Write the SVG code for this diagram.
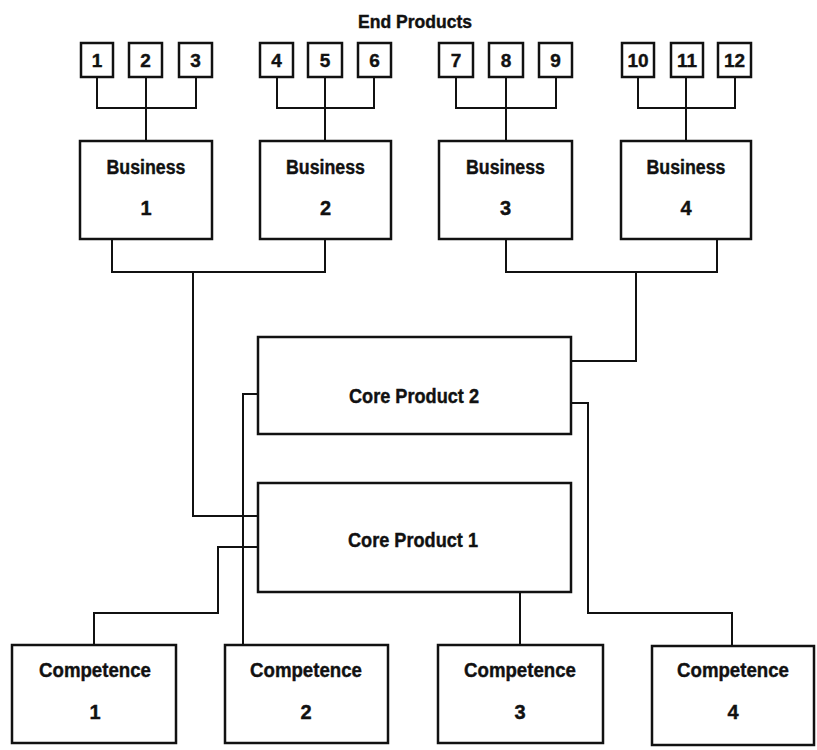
<svg xmlns="http://www.w3.org/2000/svg" width="817" height="750" viewBox="0 0 817 750">
<style>
.box{fill:#fff;stroke:#111;stroke-width:2.5}
.ln{fill:none;stroke:#111;stroke-width:2}
text{font-family:"Liberation Sans",Arial,sans-serif;font-weight:bold;fill:#111;text-anchor:middle;stroke:#111;stroke-width:0.4}
.num{font-size:19px}
.lbl{font-size:20px}
</style>
<rect width="817" height="750" fill="#fff"/>
<text id="title" x="415" y="28" font-size="18" textLength="114" lengthAdjust="spacingAndGlyphs">End Products</text>
<g id="connectors">
<path class="ln" d="M97 77V108H196V77M146 77V141"/>
<path class="ln" d="M277 77V108H374V77M325 77V141"/>
<path class="ln" d="M456 77V108H556V77M506 77V141"/>
<path class="ln" d="M638 77V108H735V77M686 77V141"/>
<path class="ln" d="M112 239V272H325V239"/>
<path class="ln" d="M506 239V272H717V239"/>
<path class="ln" d="M193 272V516H258"/>
<path class="ln" d="M636 272V361H571"/>
<path class="ln" d="M258 394H243V645"/>
<path class="ln" d="M571 403H588V613H732V646"/>
<path class="ln" d="M258 547H218V613H94V645"/>
<path class="ln" d="M520 592V645"/>
</g>
<g id="ep1"><rect class="box" x="81" y="43" width="32" height="34"/><text class="num" x="97" y="67">1</text></g>
<g id="ep2"><rect class="box" x="129" y="43" width="33" height="34"/><text class="num" x="145.5" y="67">2</text></g>
<g id="ep3"><rect class="box" x="179" y="43" width="33" height="34"/><text class="num" x="195.5" y="67">3</text></g>
<g id="ep4"><rect class="box" x="260" y="43" width="33" height="34"/><text class="num" x="276.5" y="67">4</text></g>
<g id="ep5"><rect class="box" x="308" y="43" width="34" height="34"/><text class="num" x="325" y="67">5</text></g>
<g id="ep6"><rect class="box" x="358" y="43" width="33" height="34"/><text class="num" x="374.5" y="67">6</text></g>
<g id="ep7"><rect class="box" x="439" y="43" width="34" height="34"/><text class="num" x="456" y="67">7</text></g>
<g id="ep8"><rect class="box" x="489" y="43" width="34" height="34"/><text class="num" x="506" y="67">8</text></g>
<g id="ep9"><rect class="box" x="539" y="43" width="33" height="34"/><text class="num" x="555.5" y="67">9</text></g>
<g id="ep10"><rect class="box" x="622" y="43" width="32" height="34"/><text class="num" x="638" y="67">10</text></g>
<g id="ep11"><rect class="box" x="671" y="43" width="32" height="34"/><text class="num" x="687" y="67">11</text></g>
<g id="ep12"><rect class="box" x="718" y="43" width="33" height="34"/><text class="num" x="734.5" y="67">12</text></g>
<g id="business1"><rect class="box" x="80" y="141" width="132" height="98"/><text class="lbl" x="146" y="174" textLength="79" lengthAdjust="spacingAndGlyphs">Business</text><text class="lbl" x="146" y="215">1</text></g>
<g id="business2"><rect class="box" x="260" y="141" width="131" height="98"/><text class="lbl" x="325.5" y="174" textLength="79" lengthAdjust="spacingAndGlyphs">Business</text><text class="lbl" x="325.5" y="215">2</text></g>
<g id="business3"><rect class="box" x="439" y="141" width="133" height="98"/><text class="lbl" x="505.5" y="174" textLength="79" lengthAdjust="spacingAndGlyphs">Business</text><text class="lbl" x="505.5" y="215">3</text></g>
<g id="business4"><rect class="box" x="621" y="141" width="130" height="98"/><text class="lbl" x="686" y="174" textLength="79" lengthAdjust="spacingAndGlyphs">Business</text><text class="lbl" x="686" y="215">4</text></g>
<g id="core2"><rect class="box" x="258" y="337" width="313" height="97"/><text class="lbl" x="414" y="403" textLength="130" lengthAdjust="spacingAndGlyphs">Core Product 2</text></g>
<g id="core1"><rect class="box" x="258" y="483" width="313" height="109"/><text class="lbl" x="413" y="547" textLength="130" lengthAdjust="spacingAndGlyphs">Core Product 1</text></g>
<g id="comp1"><rect class="box" x="12" y="645" width="164" height="98"/><text class="lbl" x="95" y="677" textLength="112" lengthAdjust="spacingAndGlyphs">Competence</text><text class="lbl" x="95" y="719">1</text></g>
<g id="comp2"><rect class="box" x="225" y="645" width="163" height="98"/><text class="lbl" x="306" y="677" textLength="112" lengthAdjust="spacingAndGlyphs">Competence</text><text class="lbl" x="306" y="719">2</text></g>
<g id="comp3"><rect class="box" x="438" y="645" width="165" height="98"/><text class="lbl" x="520" y="677" textLength="112" lengthAdjust="spacingAndGlyphs">Competence</text><text class="lbl" x="520" y="719">3</text></g>
<g id="comp4"><rect class="box" x="652" y="646" width="162" height="99"/><text class="lbl" x="733" y="677" textLength="112" lengthAdjust="spacingAndGlyphs">Competence</text><text class="lbl" x="733" y="719">4</text></g>
</svg>
